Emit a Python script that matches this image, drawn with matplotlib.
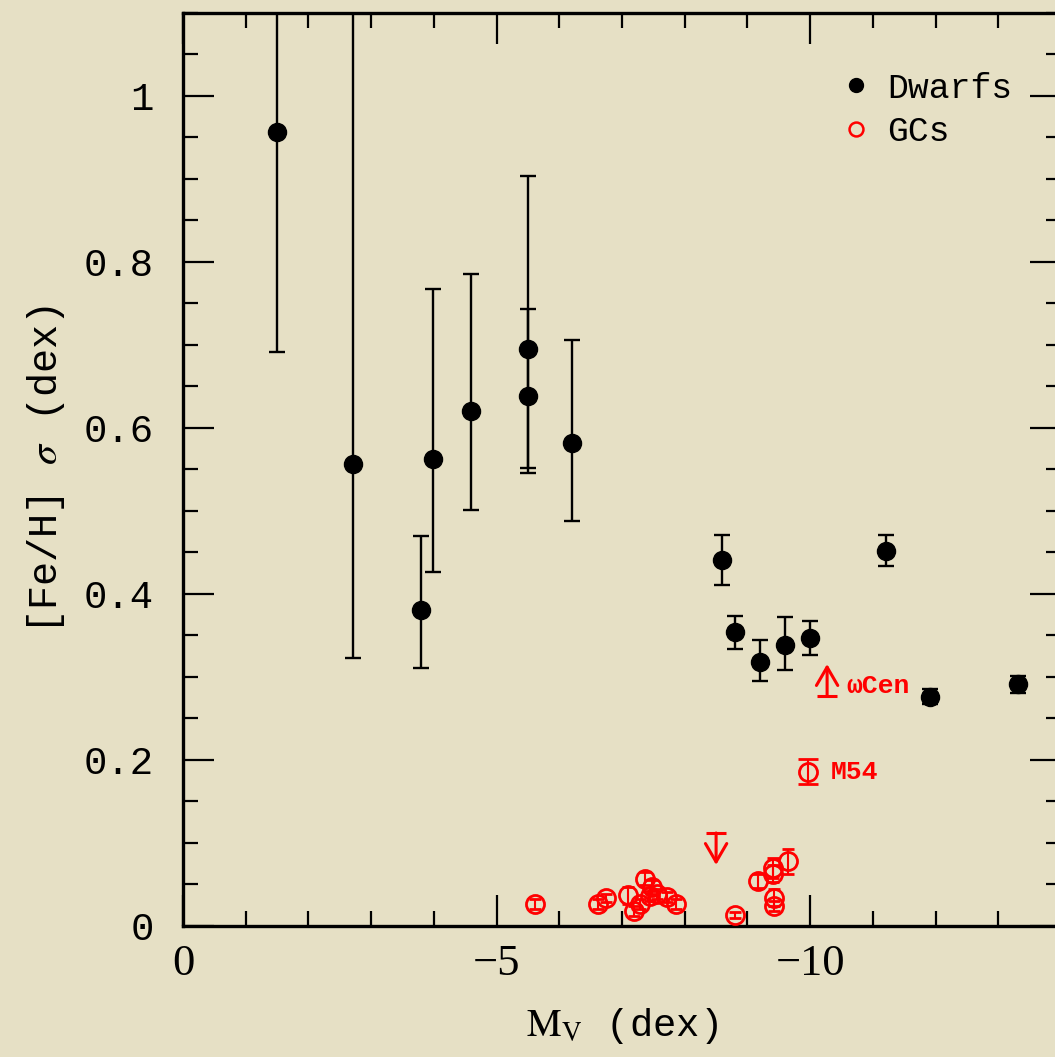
import matplotlib
matplotlib.use("Agg")
import matplotlib.pyplot as plt
from matplotlib.lines import Line2D
from matplotlib.ticker import MultipleLocator

# dwarf galaxies: M_V, sigma[Fe/H], lower / upper errors
dw_mv = [-1.50, -2.71, -3.79, -3.99, -4.59, -5.50, -5.50, -6.20,
         -8.60, -8.80, -9.20, -9.60, -10.00, -11.21, -11.91, -13.31]
dw_sig = [0.957, 0.556, 0.381, 0.563, 0.620, 0.695, 0.638, 0.582,
          0.441, 0.354, 0.318, 0.339, 0.347, 0.452, 0.276, 0.291]
dw_lo = [0.265, 0.233, 0.070, 0.136, 0.119, 0.149, 0.086, 0.094,
         0.030, 0.020, 0.023, 0.031, 0.020, 0.018, 0.009, 0.010]
dw_hi = [0.265, 0.600, 0.089, 0.204, 0.165, 0.209, 0.105, 0.124,
         0.030, 0.020, 0.026, 0.033, 0.020, 0.019, 0.009, 0.010]

# globular clusters
gc_mv = [-5.61, -6.62, -6.75, -7.10, -7.19, -7.29, -7.37, -7.45, -7.48, -7.55,
         -7.71, -7.86, -8.80, -9.17, -9.40, -9.40, -9.43, -9.43, -9.64]
gc_sig = [0.027, 0.026, 0.034, 0.037, 0.018, 0.027, 0.057, 0.036, 0.047, 0.038,
          0.035, 0.027, 0.013, 0.054, 0.063, 0.070, 0.034, 0.024, 0.078]
gc_err = [0.006, 0.006, 0.005, 0.010, 0.006, 0.006, 0.008, 0.006, 0.008, 0.006,
          0.006, 0.006, 0.004, 0.008, 0.010, 0.012, 0.010, 0.006, 0.015]

# named clusters and limits
m54 = (-9.97, 0.186, 0.015)
omega_cen = (-10.27, 0.277)   # lower limit
gc_upper = (-8.50, 0.112)     # upper limit

yticks = [0, 0.2, 0.4, 0.6, 0.8, 1]
ytick_labels = ["0", "0.2", "0.4", "0.6", "0.8", "1"]
xticks = [0, -5, -10]
xtick_labels = ["0", "\u22125", "\u221210"]

BG = "#e6e0c5"
MONO = ["Liberation Mono", "DejaVu Sans Mono"]
ARROW = "<-, head_length=0.55, head_width=0.32"
plt.rcParams["mathtext.fontset"] = "stix"

fig = plt.figure(figsize=(10.55, 10.57), dpi=100, facecolor=BG)
ax = fig.add_axes([0.1735, 0.124, 0.8322, 0.8637])
ax.set_facecolor(BG)

ax.errorbar(dw_mv, dw_sig, yerr=[dw_lo, dw_hi], fmt="o", color="black",
            ms=13, elinewidth=1.7, capsize=6, capthick=1.7, zorder=3)
ax.errorbar(gc_mv, gc_sig, yerr=gc_err, fmt="o", mfc="none", mec="red",
            ecolor="red", ms=13, mew=2, elinewidth=1.5, capsize=4.5,
            capthick=1.5, zorder=3)
ax.errorbar([m54[0]], [m54[1]], yerr=[m54[2]], fmt="o", mfc="none", mec="red",
            ecolor="red", ms=13, mew=2, elinewidth=1.5, capsize=7,
            capthick=1.5, zorder=3)
ax.annotate("M54", (m54[0], m54[1]), xytext=(16, 0), textcoords="offset points",
            color="red", fontsize=19, fontweight="bold", family=MONO,
            va="center", ha="left")

# omega Cen: lower limit (arrow up)
ax.plot([omega_cen[0]], [omega_cen[1]], marker="_", ms=15, mew=2.2, color="red")
ax.annotate("", xy=(omega_cen[0], omega_cen[1]), xytext=(0, 23),
            textcoords="offset points",
            arrowprops=dict(arrowstyle=ARROW, color="red", lw=2.2,
                            mutation_scale=24, shrinkA=0, shrinkB=0))
ax.annotate("\u03c9Cen", (omega_cen[0], omega_cen[1]), xytext=(14, 7),
            textcoords="offset points", color="red", fontsize=19,
            fontweight="bold", family=MONO, va="center", ha="left")

# upper limit (arrow down)
ax.plot([gc_upper[0]], [gc_upper[1]], marker="_", ms=15, mew=2.2, color="red")
ax.annotate("", xy=(gc_upper[0], gc_upper[1]), xytext=(0, -23),
            textcoords="offset points",
            arrowprops=dict(arrowstyle=ARROW, color="red", lw=2.2,
                            mutation_scale=24, shrinkA=0, shrinkB=0))

ax.set_xlim(0, -14)
ax.set_ylim(0, 1.1)
ax.set_xticks(xticks)
ax.set_xticklabels(xtick_labels, family=["Liberation Serif"], fontsize=32)
ax.set_yticks(yticks)
ax.set_yticklabels(ytick_labels, family=MONO, fontsize=28)
ax.xaxis.set_minor_locator(MultipleLocator(1))
ax.yaxis.set_minor_locator(MultipleLocator(0.05))
ax.tick_params(which="both", direction="in", top=True, right=True, width=1.6)
ax.tick_params(which="major", length=22)
ax.tick_params(which="minor", length=11)
ax.tick_params(axis="y", which="major", pad=21)
ax.tick_params(axis="x", which="major", pad=13)
for s in ax.spines.values():
    s.set_linewidth(2.4)

ax.set_xlabel(r"$\mathrm{M_V}$ (dex)", family=MONO, fontsize=28, labelpad=16)
ax.set_ylabel(r"[Fe/H] $\sigma$ (dex)", family=MONO, fontsize=29, labelpad=12)

handles = [Line2D([], [], ls="none", marker="o", color="black", ms=10),
           Line2D([], [], ls="none", marker="o", mfc="none", mec="red",
                  mew=1.8, ms=10)]
ax.legend(handles, ["Dwarfs", "GCs"], loc="upper right",
          bbox_to_anchor=(0.98, 0.97), frameon=False,
          prop={"family": MONO, "size": 25}, handlelength=0.8,
          handletextpad=0.5, labelspacing=0.3)

fig.savefig("out.png", dpi=100, facecolor=BG)
